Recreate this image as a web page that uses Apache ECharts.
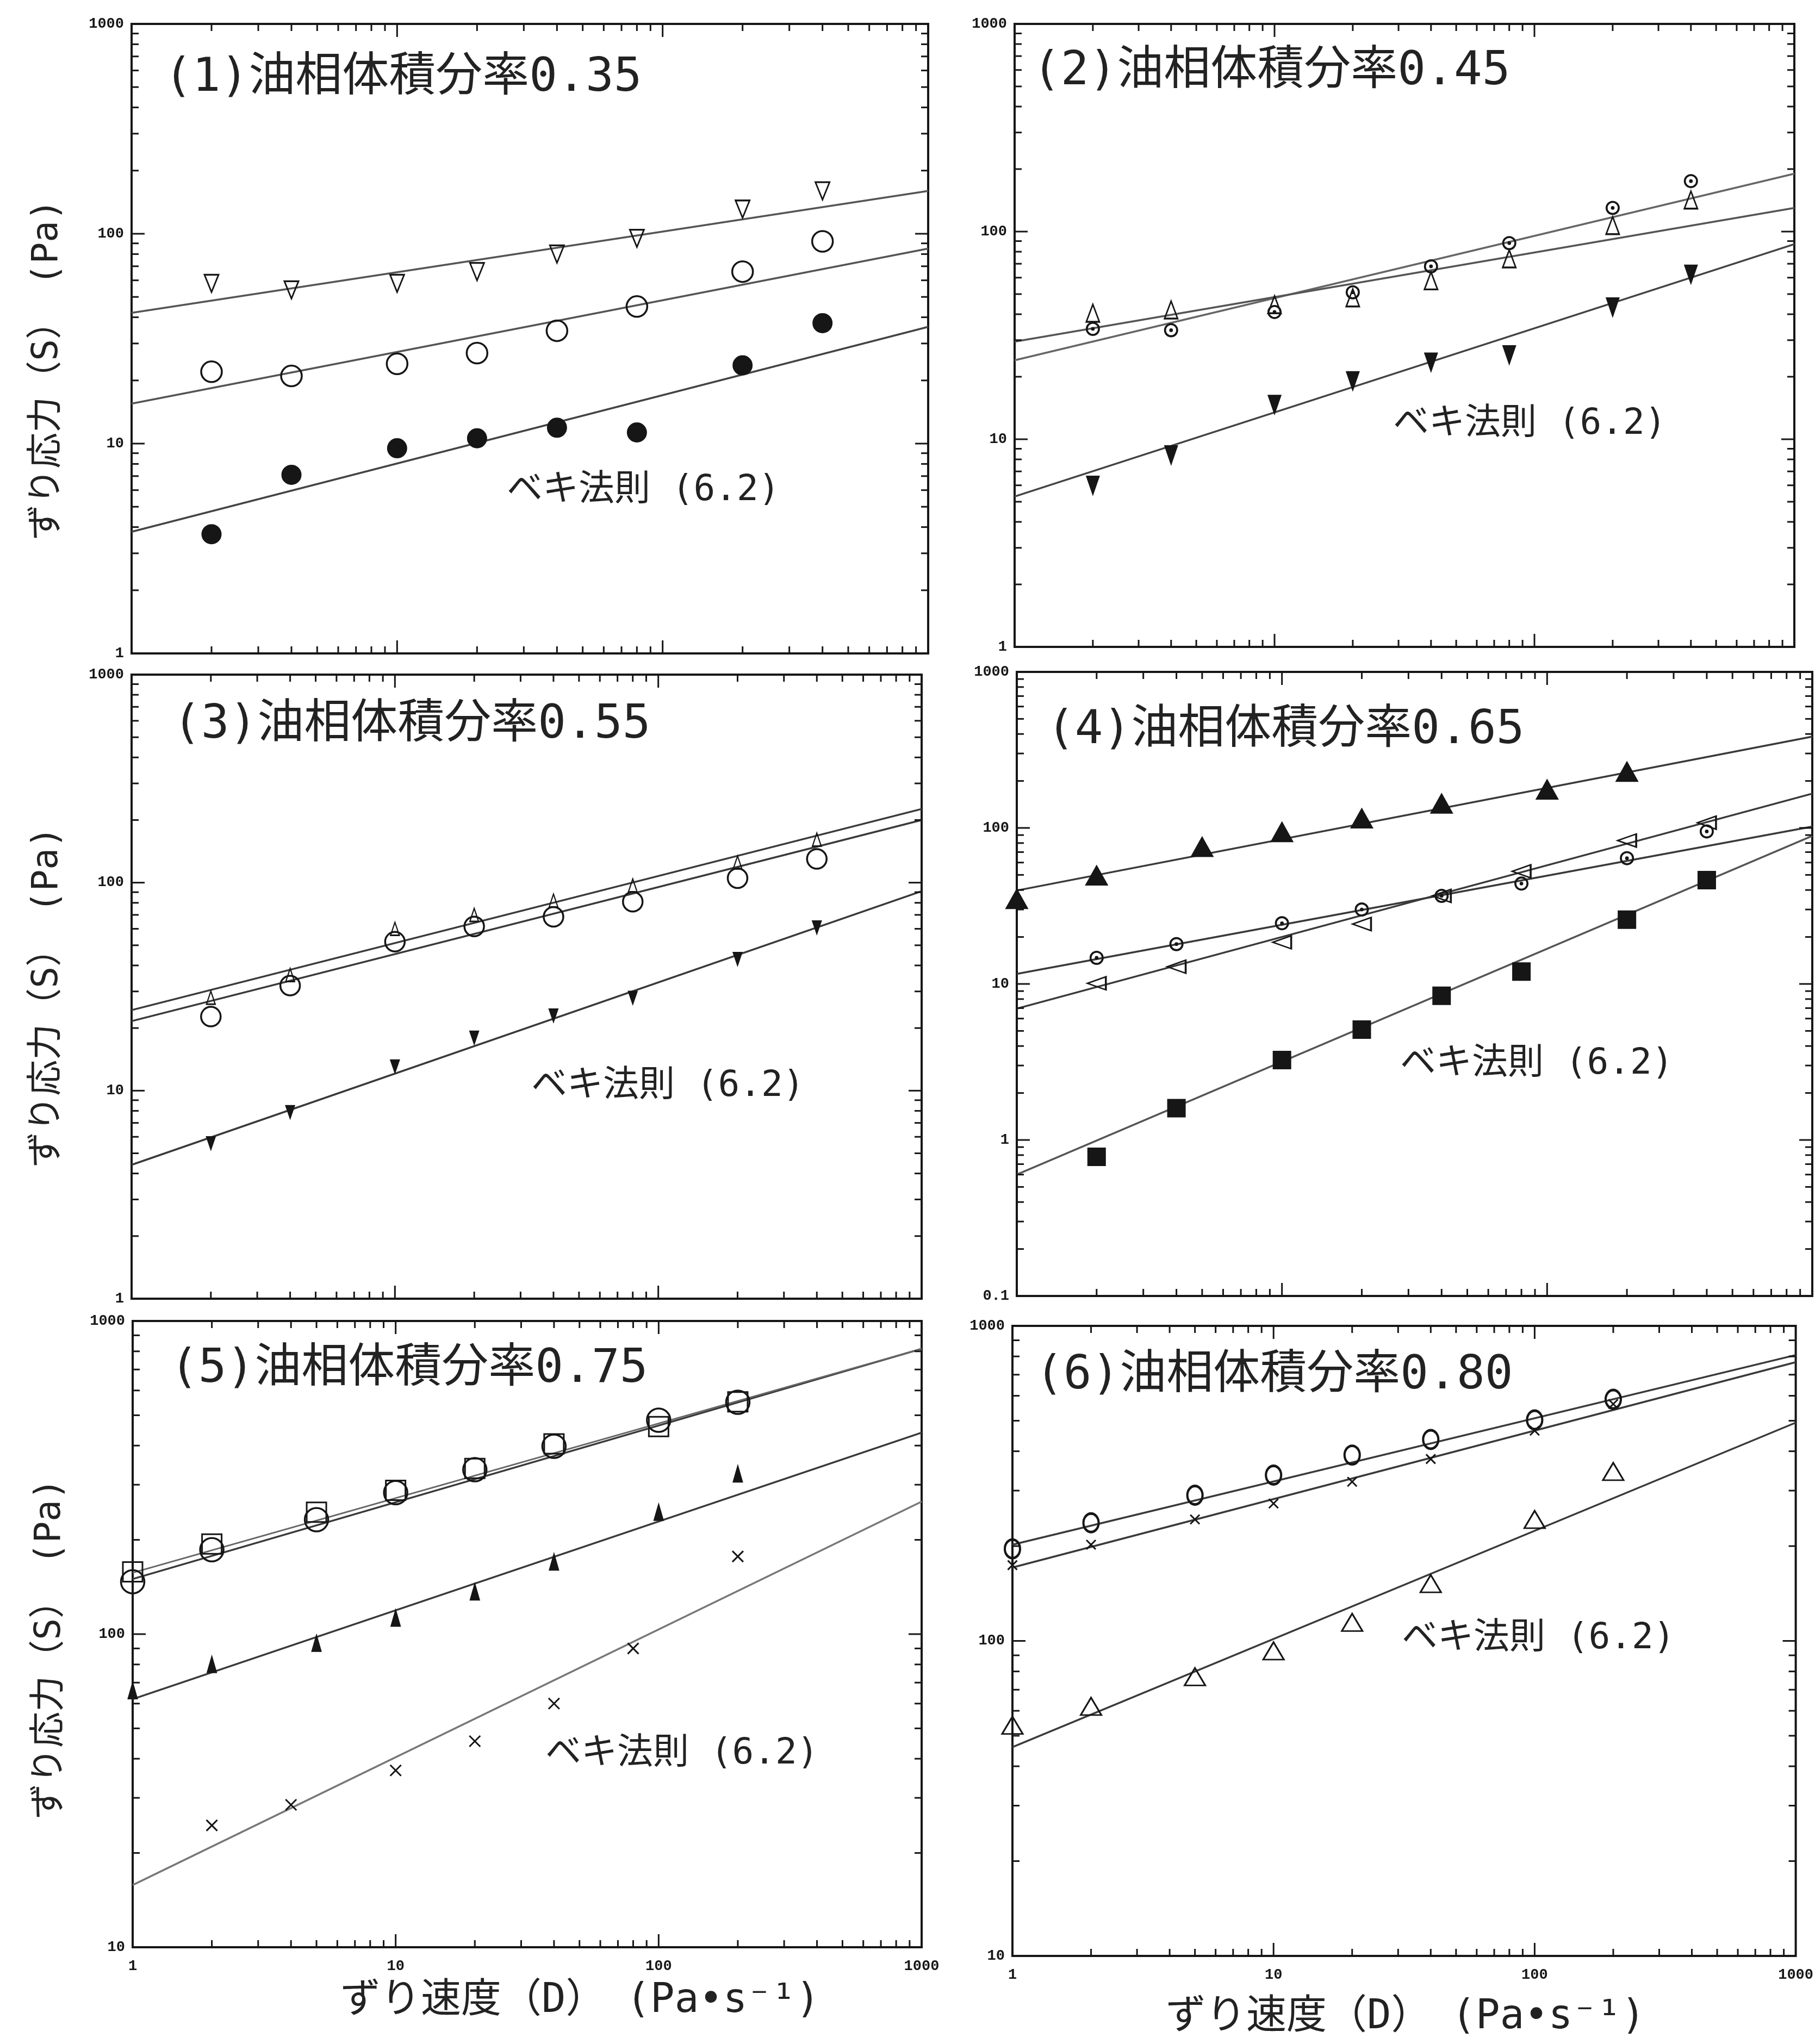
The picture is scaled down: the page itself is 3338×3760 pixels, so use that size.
<!DOCTYPE html>
<html>
<head>
<meta charset="utf-8">
<script src="https://cdn.jsdelivr.net/npm/echarts@6/dist/echarts.min.js"></script>
<style>
  html, body { margin: 0; padding: 0; background: #fff; }
  #chart { width: 3338px; height: 3760px; }
</style>
</head>
<body>
<div id="chart"></div>
<script>
// shear rates of the measured points (s^-1)
const rateA = [2, 4, 10, 20, 40, 80, 200, 400];
const rateB = [1, 2, 5, 10, 20, 40, 100, 200];
const rateC = [2, 4, 10, 20, 40, 80, 200];
// power-law fit lines are drawn across the whole axis
const fitRate = [1, 1000];

// (1) oil fraction 0.35
const s1Tri = [58, 54, 58, 66, 80, 95, 131, 160];
const s1Ring = [22, 21, 24, 27, 34.5, 45, 66, 92];
const s1Dot = [3.7, 7.1, 9.5, 10.6, 11.9, 11.3, 23.6, 37.5];
const f1Tri = [42, 160];
const f1Ring = [15.5, 85];
const f1Dot = [3.8, 36];

// (2) 0.45
const s2Odot = [34, 33.5, 41, 51, 68, 88, 130, 175];
const s2Tri = [40.5, 42, 44.5, 48, 58, 74, 107, 142];
const s2Down = [6.0, 8.4, 14.7, 19.1, 23.5, 25.5, 43.3, 62.3];
const f2Odot = [24, 190];
const f2Tri = [29.5, 130];
const f2Down = [5.3, 87];

// (3) 0.55
const s3Tri = [28, 36, 60, 70, 82, 97, 125, 161];
const s3Ring = [22.7, 32, 52, 61.6, 68.5, 81, 105, 130];
const s3Down = [5.6, 7.9, 13.1, 18, 23, 28, 43, 61];
const f3Tri = [24.4, 226];
const f3Ring = [21.6, 200];
const f3Down = [4.4, 91];

// (4) 0.65
const s4Up = [35, 49.5, 75.5, 94, 115, 143, 176, 229];
const s4Odot = [14.7, 18, 24.5, 30, 36.7, 44, 64, 95];
const s4Left = [10.1, 12.9, 18.5, 24.2, 36.7, 52.7, 83, 108];
const s4Sq = [0.78, 1.6, 3.25, 5.1, 8.4, 12, 25.8, 46.3];
const f4Up = [39.7, 385];
const f4Odot = [11.6, 102];
const f4Left = [6.95, 166];
const f4Sq = [0.6, 89];

// (5) 0.75
const s5Ring = [147, 186, 232, 283, 335, 398, 482, 550];
const s5Sq = [158, 194, 245, 288, 338, 405, 460, 552];
const s5Up = [66, 80, 93.5, 112.5, 136.5, 170, 245, 325];
const s5Cross = [24.5, 28.5, 36.7, 45.5, 60, 90, 177];
const f5Ring = [150, 815];
const f5Sq = [157, 815];
const f5Up = [62, 440];
const f5Cross = [15.8, 265];

// (6) 0.80
const s6Ring = [196, 237, 290, 336, 389, 436, 503, 585];
const s6Cross = [174, 202, 243, 273, 320, 378, 465, 565];
const s6Tri = [54, 62, 77, 93, 114.5, 152, 243, 345];
const f6Ring = [202, 808];
const f6Cross = [171, 767];
const f6Tri = [46, 493];

// axes and texts
const yMins = [1, 1, 1, 0.1, 10, 10];
const xMin = 1;
const xMax = 1000;
const yMax = 1000;
const tickMantissa = [2, 3, 4, 5, 6, 7, 8, 9];
const titles = [
  '(1)油相体積分率0.35',
  '(2)油相体積分率0.45',
  '(3)油相体積分率0.55',
  '(4)油相体積分率0.65',
  '(5)油相体積分率0.75',
  '(6)油相体積分率0.80'
];
const lawText = 'ベキ法則 (6.2)';
const yName = 'ずり応力（S）　(Pa)';
const xName = 'ずり速度（D）　(Pa•s⁻¹)';

// layout
const grids = [
  { left: 242, top: 44, width: 1465, height: 1158 },
  { left: 1866, top: 44, width: 1434, height: 1146 },
  { left: 242, top: 1241, width: 1453, height: 1148 },
  { left: 1870, top: 1236, width: 1463, height: 1148 },
  { left: 244, top: 2430, width: 1451, height: 1152 },
  { left: 1862, top: 2439, width: 1443, height: 1159 }
];
const titlePos = [[302, 145], [1899, 133], [318, 1335], [1925, 1345], [313, 2520], [1904, 2532]];
const lawPos = [[932, 903], [2562, 781], [977, 1999], [2575, 1958], [1003, 3227], [2578, 3015]];
const yNamePos = [[88, 680], [88, 1834], [93, 3033]];
const xNamePos = [[1067, 3682], [2585, 3712]];

const INK = '#161616';
const LINE = '#3a3a3a';
const HOLLOW = 'rgba(255,255,255,0)';
const MONO = '"DejaVu Sans Mono", "Noto Sans CJK JP", sans-serif';
const ODOT = 'path://M50 0A50 50 0 1 1 50 100A50 50 0 1 1 50 0ZM50 14A36 36 0 1 0 50 86A36 36 0 1 0 50 14ZM50 37A13 13 0 1 1 50 63A13 13 0 1 1 50 37Z';
const CROSS = 'path://M0 0L10 10M10 0L0 10';

function pts(xs, ys) {
  return xs.map((x, i) => [x, ys[i]]);
}

function scatter(k, xs, ys, symbol, size, filled, rotate, border) {
  return {
    type: 'scatter',
    xAxisIndex: k,
    yAxisIndex: k,
    data: pts(xs, ys),
    symbol: symbol,
    symbolSize: size,
    symbolRotate: rotate || 0,
    itemStyle: {
      color: filled ? INK : HOLLOW,
      borderColor: INK,
      borderWidth: border === undefined ? 3 : border,
      opacity: 1
    },
    z: 5,
    silent: true
  };
}

function fit(k, ys, color, width) {
  return {
    type: 'line',
    xAxisIndex: k,
    yAxisIndex: k,
    data: pts(fitRate, ys),
    symbol: 'none',
    lineStyle: { color: color || LINE, width: width || 3.5 },
    z: 3,
    silent: true
  };
}

// ticks on all four sides (major and minor), drawn inward
function tickData(k) {
  const out = [];
  for (let d = xMin; d < xMax; d *= 10) {
    if (d > xMin) out.push([d, yMins[k], 0, 1]);
    tickMantissa.forEach(m => out.push([d * m, yMins[k], 0, 0]));
  }
  for (let d = yMins[k]; d < yMax * 0.999; d *= 10) {
    if (d > yMins[k] * 1.001) out.push([xMin, d, 1, 1]);
    tickMantissa.forEach(m => out.push([xMin, d * m, 1, 0]));
  }
  return out;
}

function renderTicks(params, api) {
  const cs = params.coordSys;
  const kind = api.value(2);
  const len = api.value(3) ? 24 : 13;
  const st = { stroke: INK, lineWidth: 3 };
  if (kind === 0) {
    const px = api.coord([api.value(0), api.value(1)])[0];
    return {
      type: 'group',
      children: [
        { type: 'line', shape: { x1: px, y1: cs.y + cs.height, x2: px, y2: cs.y + cs.height - len }, style: st },
        { type: 'line', shape: { x1: px, y1: cs.y, x2: px, y2: cs.y + len }, style: st }
      ]
    };
  }
  const py = api.coord([api.value(0), api.value(1)])[1];
  return {
    type: 'group',
    children: [
      { type: 'line', shape: { x1: cs.x, y1: py, x2: cs.x + len, y2: py }, style: st },
      { type: 'line', shape: { x1: cs.x + cs.width, y1: py, x2: cs.x + cs.width - len, y2: py }, style: st }
    ]
  };
}

const series = [
  // (1)
  fit(0, f1Tri, '#555'), fit(0, f1Ring, '#555'), fit(0, f1Dot, '#444'),
  scatter(0, rateA, s1Tri, 'triangle', [26, 32], false, 180, 3),
  scatter(0, rateA, s1Ring, 'circle', 38, false, 0, 3.5),
  scatter(0, rateA, s1Dot, 'circle', 34, true),
  // (2)
  fit(1, f2Odot, '#666'), fit(1, f2Tri, '#555'), fit(1, f2Down, '#444'),
  scatter(1, rateA, s2Odot, ODOT, 26, true, 0, 0),
  scatter(1, rateA, s2Tri, 'triangle', [24, 32], false, 0, 3),
  scatter(1, rateA, s2Down, 'triangle', [22, 32], true, 180),
  // (3)
  fit(2, f3Tri), fit(2, f3Ring), fit(2, f3Down),
  scatter(2, rateA, s3Tri, 'triangle', [16, 24], false, 0, 2.5),
  scatter(2, rateA, s3Ring, 'circle', 36, false, 0, 3.5),
  scatter(2, rateA, s3Down, 'triangle', [15, 22], true, 180),
  // (4)
  fit(3, f4Up), fit(3, f4Odot), fit(3, f4Left), fit(3, f4Sq, '#555'),
  scatter(3, rateB, s4Up, 'triangle', [38, 34], true),
  scatter(3, rateA, s4Odot, ODOT, 26, true, 0, 0),
  scatter(3, rateA, s4Left, 'triangle', [24, 34], false, 90, 3),
  scatter(3, rateA, s4Sq, 'rect', 31, true),
  // (5)
  fit(4, f5Ring), fit(4, f5Sq, '#666', 3), fit(4, f5Up), fit(4, f5Cross, '#777'),
  scatter(4, rateB, s5Sq, 'rect', 36, false, 0, 3),
  scatter(4, rateB, s5Ring, 'circle', 43, false, 0, 3.5),
  scatter(4, rateB, s5Up, 'triangle', [16, 28], true),
  scatter(4, rateC, s5Cross, CROSS, 20, false, 0, 3),
  // (6)
  fit(5, f6Ring), fit(5, f6Cross), fit(5, f6Tri),
  scatter(5, rateB, s6Ring, 'circle', [28, 34], false, 0, 4.5),
  scatter(5, rateB, s6Cross, CROSS, 17, false, 0, 3),
  scatter(5, rateB, s6Tri, 'triangle', [38, 32], false, 0, 3)
];

grids.forEach((g, k) => {
  series.push({
    type: 'custom',
    xAxisIndex: k,
    yAxisIndex: k,
    data: tickData(k),
    renderItem: renderTicks,
    silent: true,
    z: 4
  });
});

const labelStyle = {
  fontFamily: '"Liberation Mono", monospace',
  fontWeight: 'bold',
  fontSize: 27,
  color: INK,
  formatter: v => String(v)
};

const graphic = [];
titles.forEach((t, k) => {
  graphic.push({
    type: 'text', x: titlePos[k][0], y: titlePos[k][1], silent: true,
    style: { text: t, fontSize: 86, fontFamily: MONO, fill: '#222', verticalAlign: 'middle' }
  });
  graphic.push({
    type: 'text', x: lawPos[k][0], y: lawPos[k][1], silent: true,
    style: { text: lawText, fontSize: 66, fontFamily: MONO, fill: '#222', verticalAlign: 'middle' }
  });
});
yNamePos.forEach(p => {
  graphic.push({
    type: 'text', x: p[0], y: p[1], rotation: Math.PI / 2, silent: true,
    style: { text: yName, fontSize: 66, fontFamily: MONO, fill: '#222', align: 'center', verticalAlign: 'middle' }
  });
});
xNamePos.forEach(p => {
  graphic.push({
    type: 'text', x: p[0], y: p[1], silent: true,
    style: { text: xName, fontSize: 74, fontFamily: MONO, fill: '#222', align: 'center', verticalAlign: 'middle' }
  });
});

const chart = echarts.init(document.getElementById('chart'), null, { renderer: 'canvas' });
chart.setOption({
  backgroundColor: '#fff',
  animation: false,
  grid: grids.map(g => Object.assign({
    show: true, borderColor: INK, borderWidth: 4, backgroundColor: 'rgba(0,0,0,0)', containLabel: false
  }, g)),
  xAxis: grids.map((g, k) => ({
    type: 'log', logBase: 10, gridIndex: k, min: xMin, max: xMax,
    axisLine: { show: false }, axisTick: { show: false }, splitLine: { show: false },
    axisLabel: Object.assign({ show: k >= 4, margin: 22 }, labelStyle)
  })),
  yAxis: grids.map((g, k) => ({
    type: 'log', logBase: 10, gridIndex: k, min: yMins[k], max: yMax,
    axisLine: { show: false }, axisTick: { show: false }, splitLine: { show: false },
    axisLabel: Object.assign({ margin: 14 }, labelStyle)
  })),
  graphic: graphic,
  series: series
});
</script>
</body>
</html>
